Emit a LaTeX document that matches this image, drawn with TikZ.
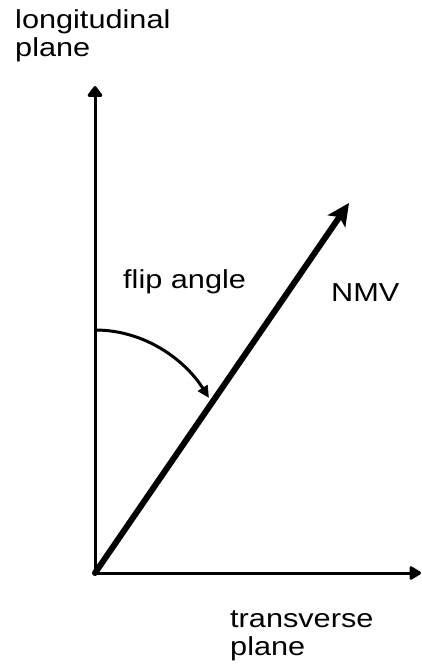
\documentclass[tikz,border=0pt]{standalone}
\usepackage{fontspec}
\newfontfamily\lbl{Liberation Sans}[FakeStretch=1.18]
\usetikzlibrary{arrows.meta}
\begin{document}
\begin{tikzpicture}[x=1pt,y=-1pt,
  lab/.style={font=\lbl\fontsize{26}{28}\selectfont, inner sep=0pt, align=left},
  axis/.style={line width=3pt},
  vec/.style={line width=6pt},
  flipcurve/.style={line width=3pt}]
\useasboundingbox (0,0) rectangle (421,667);
\coordinate (O) at (95,573);
\coordinate (Ytip) at (95,86);
\coordinate (Xtip) at (421,573);
\coordinate (Vtip) at (349,203);
\coordinate (A0) at (95,330);
\coordinate (A1) at (209,398);
\draw[axis,-{Triangle[length=12pt,width=17pt,round]}] (O) -- (Ytip);
\draw[axis,-{Triangle[length=13pt,width=15pt,round]}] (O) -- (Xtip);
\draw[vec,line cap=round,-{Stealth[length=22pt,width=21pt,inset=5pt]}] (O) -- (Vtip);
\draw[flipcurve,-{Triangle[length=12pt,width=11pt]}] (A0) .. controls (145,330) and (185,360) .. (A1);
\node[lab,anchor=base west] (lon) at (15,56) {longitudinal\\plane};
\node[lab,anchor=base west] (flip) at (123,288) {flip angle};
\node[lab,anchor=base west] (nmv) at (331,301) {NMV};
\node[lab,anchor=base west] (tra) at (230,655) {transverse\\plane};
\end{tikzpicture}
\end{document}
